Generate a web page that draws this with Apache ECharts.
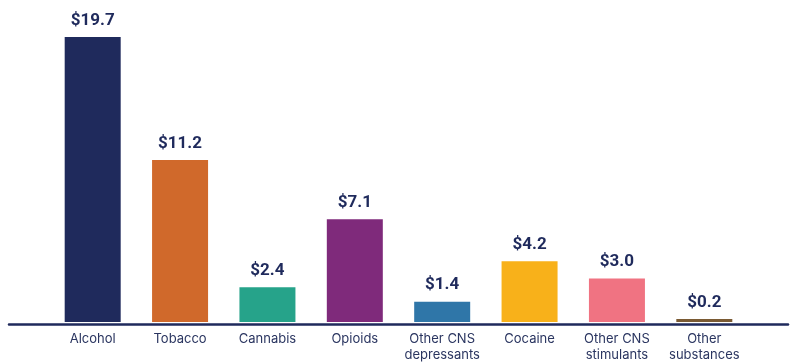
<!DOCTYPE html>
<html><head><meta charset="utf-8">
<script src="https://cdn.jsdelivr.net/npm/echarts@6/dist/echarts.min.js"></script>
<style>html,body{margin:0;padding:0;background:#fff}#c{width:800px;height:363px}</style>
</head><body><div id="c"></div>
<script>
const categories = ['Alcohol','Tobacco','Cannabis','Opioids','Other CNS\ndepressants','Cocaine','Other CNS\nstimulants','Other\nsubstances'];
const values = [19.7, 11.2, 2.4, 7.1, 1.4, 4.2, 3.0, 0.2];
const colors = ['#1f2a5c','#d0692b','#26a38a','#7f2a7b','#2f76a8','#f8b11a','#f07382','#7a5a33'];

const chart = echarts.init(document.getElementById('c'));
chart.setOption({
  animation: false,
  grid: [
    {left: 49, right: 52, top: 32.6, bottom: 39},
    {left: 9, right: 12, top: 32.6, bottom: 39}
  ],
  xAxis: [
    {type: 'category', data: categories, gridIndex: 0,
     axisLine: {show: false}, axisTick: {show: false},
     axisLabel: {color: '#2a3560', fontSize: 13, fontFamily: 'Inter', margin: 9, lineHeight: 16, interval: 0}},
    {type: 'value', gridIndex: 1, min: 0, max: 1,
     axisLine: {show: true, lineStyle: {color: '#1f2a5c', width: 2.5}},
     axisTick: {show: false}, axisLabel: {show: false}, splitLine: {show: false}}
  ],
  yAxis: [
    {type: 'value', gridIndex: 0, min: 0, max: 20, show: false},
    {type: 'value', gridIndex: 1, min: 0, max: 1, show: false}
  ],
  series: [{
    type: 'bar', xAxisIndex: 0, yAxisIndex: 0, barWidth: 56,
    data: values.map((v, i) => ({value: v, itemStyle: {color: colors[i]}})),
    label: {show: true, position: 'top', distance: 8, color: '#1f2a5c', fontSize: 17, fontWeight: 'bold', fontFamily: 'Roboto',
      formatter: p => '$' + p.value.toFixed(1)}
  }]
});
</script></body></html>
